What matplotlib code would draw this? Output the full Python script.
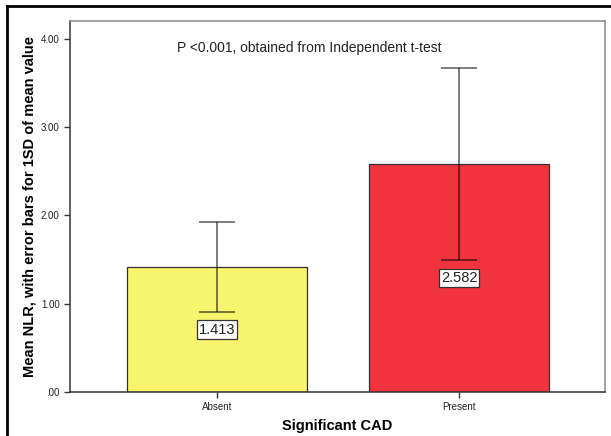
import matplotlib.pyplot as plt
from matplotlib.lines import Line2D
from matplotlib.ticker import FuncFormatter

plt.rcParams['font.family'] = ['Liberation Sans', 'DejaVu Sans']

groups = ['Absent', 'Present']
means = [1.413, 2.582]
sds = [0.507, 1.087]
bar_colors = ['#f8f46e', '#f0333c']
p_note = 'P <0.001, obtained from Independent t-test'


def fmt_tick(v, pos):
    s = '%.2f' % v
    if s.startswith('0.'):
        s = s[1:]
    return s


fig = plt.figure(figsize=(6.11, 4.36), dpi=100)
ax = fig.add_axes([70 / 611, 1 - 392 / 436, 535 / 611, 371 / 436])

x = list(range(len(groups)))
ax.bar(x, means, width=0.744, color=bar_colors, edgecolor='#333333',
       linewidth=0.9, zorder=2)
ax.errorbar(x, means, yerr=sds, fmt='none', ecolor='black', alpha=0.6,
            elinewidth=1.2, capsize=13.3, capthick=1.2, zorder=3)

for xi, m in zip(x, means):
    ax.text(xi, m / 2, '%.3f' % m, ha='center', va='center', fontsize=10.5,
            color='#222222', zorder=4,
            bbox=dict(boxstyle='square,pad=0.15', fc='white', ec='#333333', lw=0.9))

ax.text(0.381, 3.9, p_note, ha='center', va='center', fontsize=10,
        color='#222222')

ax.set_xlim(-0.607, 1.603)
ax.set_ylim(0, 4.2)
ax.set_yticks([0, 1, 2, 3, 4])
ax.yaxis.set_major_formatter(FuncFormatter(fmt_tick))
ax.set_xticks(x)
ax.set_xticklabels(groups)
ax.tick_params(labelsize=7, length=4, width=1, color='#333333', labelcolor='#222222')

for side in ['left', 'bottom']:
    ax.spines[side].set_color('#333333')
    ax.spines[side].set_linewidth(1.1)
for side in ['top', 'right']:
    ax.spines[side].set_color('#888888')
    ax.spines[side].set_linewidth(1.1)

ax.set_xlabel('Significant CAD', fontsize=10.5, fontweight='bold')
ax.xaxis.set_label_coords(0.5, -27 / 371)
ax.set_ylabel('Mean NLR, with error bars for 1SD of mean value', fontsize=10.5,
              fontweight='bold')
ax.yaxis.set_label_coords(-33 / 535, 0.5)

# frame around the panel (only top and left edges fall inside the image)
top = 1 - 6 / 436
left = 7 / 611
fig.add_artist(Line2D([left, 1], [top, top], color='black', lw=2,
                      transform=fig.transFigure))
fig.add_artist(Line2D([left, left], [0, top], color='black', lw=2,
                      transform=fig.transFigure))

fig.savefig('out.png', dpi=100)
